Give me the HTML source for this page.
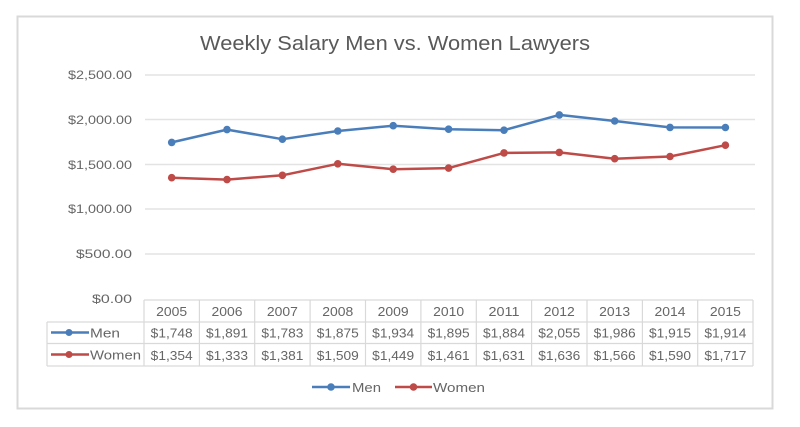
<!DOCTYPE html>
<html>
<head>
<meta charset="utf-8">
<style>
html,body{margin:0;padding:0;background:#fff;}
svg{display:block;}
text{font-family:"Liberation Sans",sans-serif;fill:#666;}
</style>
</head>
<body>
<svg width="800" height="427" viewBox="0 0 800 427" xmlns="http://www.w3.org/2000/svg">
<rect x="0" y="0" width="800" height="427" fill="#fff"/>
<rect x="17.5" y="16.5" width="755" height="392" fill="#fff" stroke="#d9d9d9" stroke-width="2"/>

<text x="395" y="50" font-size="20" text-anchor="middle" textLength="390" lengthAdjust="spacingAndGlyphs" style="fill:#595959">Weekly Salary Men vs. Women Lawyers</text>

<!-- gridlines -->
<g stroke="#e3e3e3" stroke-width="1.5">
<line x1="145" y1="75" x2="755" y2="75"/>
<line x1="145" y1="119.5" x2="755" y2="119.5"/>
<line x1="145" y1="164.5" x2="755" y2="164.5"/>
<line x1="145" y1="209" x2="755" y2="209"/>
<line x1="145" y1="254" x2="755" y2="254"/>
</g>

<!-- y labels -->
<g font-size="12" text-anchor="end">
<text x="132" y="79" textLength="64" lengthAdjust="spacingAndGlyphs">$2,500.00</text>
<text x="132" y="124" textLength="64" lengthAdjust="spacingAndGlyphs">$2,000.00</text>
<text x="132" y="169" textLength="64" lengthAdjust="spacingAndGlyphs">$1,500.00</text>
<text x="132" y="213" textLength="64" lengthAdjust="spacingAndGlyphs">$1,000.00</text>
<text x="132" y="258" textLength="56" lengthAdjust="spacingAndGlyphs">$500.00</text>
<text x="132" y="303" textLength="40" lengthAdjust="spacingAndGlyphs">$0.00</text>
</g>

<!-- table -->
<g stroke="#d9d9d9" stroke-width="1.2" fill="none">
<line x1="144" y1="300" x2="753" y2="300"/>
<line x1="47" y1="322" x2="753" y2="322"/>
<line x1="47" y1="343.5" x2="753" y2="343.5"/>
<line x1="47" y1="366" x2="753" y2="366"/>
<line x1="47" y1="322" x2="47" y2="366"/>
<line x1="144" y1="300" x2="144" y2="366"/>
<line x1="199.4" y1="300" x2="199.4" y2="366"/>
<line x1="254.7" y1="300" x2="254.7" y2="366"/>
<line x1="310.1" y1="300" x2="310.1" y2="366"/>
<line x1="365.5" y1="300" x2="365.5" y2="366"/>
<line x1="420.9" y1="300" x2="420.9" y2="366"/>
<line x1="476.3" y1="300" x2="476.3" y2="366"/>
<line x1="531.6" y1="300" x2="531.6" y2="366"/>
<line x1="587" y1="300" x2="587" y2="366"/>
<line x1="642.4" y1="300" x2="642.4" y2="366"/>
<line x1="697.7" y1="300" x2="697.7" y2="366"/>
<line x1="753" y1="300" x2="753" y2="366"/>
</g>

<g font-size="13" text-anchor="middle">
<text x="171.7" y="316" textLength="31" lengthAdjust="spacingAndGlyphs">2005</text>
<text x="227" y="316" textLength="31" lengthAdjust="spacingAndGlyphs">2006</text>
<text x="282.4" y="316" textLength="31" lengthAdjust="spacingAndGlyphs">2007</text>
<text x="337.8" y="316" textLength="31" lengthAdjust="spacingAndGlyphs">2008</text>
<text x="393.2" y="316" textLength="31" lengthAdjust="spacingAndGlyphs">2009</text>
<text x="448.6" y="316" textLength="31" lengthAdjust="spacingAndGlyphs">2010</text>
<text x="504" y="316" textLength="31" lengthAdjust="spacingAndGlyphs">2011</text>
<text x="559.3" y="316" textLength="31" lengthAdjust="spacingAndGlyphs">2012</text>
<text x="614.7" y="316" textLength="31" lengthAdjust="spacingAndGlyphs">2013</text>
<text x="670" y="316" textLength="31" lengthAdjust="spacingAndGlyphs">2014</text>
<text x="725.4" y="316" textLength="31" lengthAdjust="spacingAndGlyphs">2015</text>

<text x="171.7" y="337.5" textLength="42" lengthAdjust="spacingAndGlyphs">$1,748</text>
<text x="227" y="337.5" textLength="42" lengthAdjust="spacingAndGlyphs">$1,891</text>
<text x="282.4" y="337.5" textLength="42" lengthAdjust="spacingAndGlyphs">$1,783</text>
<text x="337.8" y="337.5" textLength="42" lengthAdjust="spacingAndGlyphs">$1,875</text>
<text x="393.2" y="337.5" textLength="42" lengthAdjust="spacingAndGlyphs">$1,934</text>
<text x="448.6" y="337.5" textLength="42" lengthAdjust="spacingAndGlyphs">$1,895</text>
<text x="504" y="337.5" textLength="42" lengthAdjust="spacingAndGlyphs">$1,884</text>
<text x="559.3" y="337.5" textLength="42" lengthAdjust="spacingAndGlyphs">$2,055</text>
<text x="614.7" y="337.5" textLength="42" lengthAdjust="spacingAndGlyphs">$1,986</text>
<text x="670" y="337.5" textLength="42" lengthAdjust="spacingAndGlyphs">$1,915</text>
<text x="725.4" y="337.5" textLength="42" lengthAdjust="spacingAndGlyphs">$1,914</text>

<text x="171.7" y="360" textLength="42" lengthAdjust="spacingAndGlyphs">$1,354</text>
<text x="227" y="360" textLength="42" lengthAdjust="spacingAndGlyphs">$1,333</text>
<text x="282.4" y="360" textLength="42" lengthAdjust="spacingAndGlyphs">$1,381</text>
<text x="337.8" y="360" textLength="42" lengthAdjust="spacingAndGlyphs">$1,509</text>
<text x="393.2" y="360" textLength="42" lengthAdjust="spacingAndGlyphs">$1,449</text>
<text x="448.6" y="360" textLength="42" lengthAdjust="spacingAndGlyphs">$1,461</text>
<text x="504" y="360" textLength="42" lengthAdjust="spacingAndGlyphs">$1,631</text>
<text x="559.3" y="360" textLength="42" lengthAdjust="spacingAndGlyphs">$1,636</text>
<text x="614.7" y="360" textLength="42" lengthAdjust="spacingAndGlyphs">$1,566</text>
<text x="670" y="360" textLength="42" lengthAdjust="spacingAndGlyphs">$1,590</text>
<text x="725.4" y="360" textLength="42" lengthAdjust="spacingAndGlyphs">$1,717</text>
</g>

<!-- table legend keys -->
<line x1="51" y1="332.5" x2="89" y2="332.5" stroke="#4a7ebb" stroke-width="2.5"/>
<circle cx="69" cy="332.5" r="3.5" fill="#4a7ebb"/>
<text x="90" y="337.5" font-size="13" textLength="30" lengthAdjust="spacingAndGlyphs">Men</text>
<line x1="51" y1="354.5" x2="89" y2="354.5" stroke="#be4b48" stroke-width="2.5"/>
<circle cx="69" cy="354.5" r="3.5" fill="#be4b48"/>
<text x="90" y="359.5" font-size="13" textLength="51" lengthAdjust="spacingAndGlyphs">Women</text>

<!-- series -->
<polyline fill="none" stroke="#4a7ebb" stroke-width="2.5" stroke-linejoin="round"
points="171.7,142.4 227,129.6 282.4,139.2 337.8,131 393.2,125.7 448.6,129.2 504,130.2 559.3,114.9 614.7,121 670,127.4 725.4,127.5"/>
<g fill="#4a7ebb">
<circle cx="171.7" cy="142.4" r="3.8"/><circle cx="227" cy="129.6" r="3.8"/><circle cx="282.4" cy="139.2" r="3.8"/>
<circle cx="337.8" cy="131" r="3.8"/><circle cx="393.2" cy="125.7" r="3.8"/><circle cx="448.6" cy="129.2" r="3.8"/>
<circle cx="504" cy="130.2" r="3.8"/><circle cx="559.3" cy="114.9" r="3.8"/><circle cx="614.7" cy="121" r="3.8"/>
<circle cx="670" cy="127.4" r="3.8"/><circle cx="725.4" cy="127.5" r="3.8"/>
</g>
<polyline fill="none" stroke="#be4b48" stroke-width="2.5" stroke-linejoin="round"
points="171.7,177.7 227,179.6 282.4,175.3 337.8,163.8 393.2,169.2 448.6,168.1 504,152.9 559.3,152.4 614.7,158.7 670,156.5 725.4,145.2"/>
<g fill="#be4b48">
<circle cx="171.7" cy="177.7" r="3.8"/><circle cx="227" cy="179.6" r="3.8"/><circle cx="282.4" cy="175.3" r="3.8"/>
<circle cx="337.8" cy="163.8" r="3.8"/><circle cx="393.2" cy="169.2" r="3.8"/><circle cx="448.6" cy="168.1" r="3.8"/>
<circle cx="504" cy="152.9" r="3.8"/><circle cx="559.3" cy="152.4" r="3.8"/><circle cx="614.7" cy="158.7" r="3.8"/>
<circle cx="670" cy="156.5" r="3.8"/><circle cx="725.4" cy="145.2" r="3.8"/>
</g>

<!-- bottom legend -->
<line x1="312" y1="387" x2="350" y2="387" stroke="#4a7ebb" stroke-width="2.5"/>
<circle cx="331" cy="387" r="3.8" fill="#4a7ebb"/>
<text x="352" y="392" font-size="13" textLength="29" lengthAdjust="spacingAndGlyphs">Men</text>
<line x1="395" y1="387" x2="432" y2="387" stroke="#be4b48" stroke-width="2.5"/>
<circle cx="413.5" cy="387" r="3.8" fill="#be4b48"/>
<text x="433" y="392" font-size="13" textLength="52" lengthAdjust="spacingAndGlyphs">Women</text>
</svg>
</body>
</html>
